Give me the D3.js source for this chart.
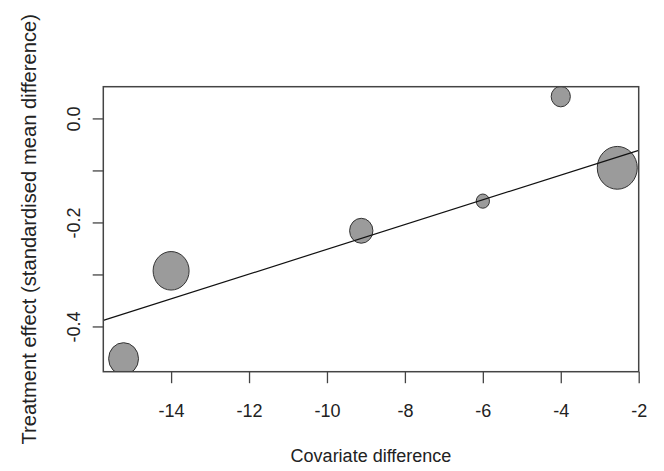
<!DOCTYPE html>
<html>
<head>
<meta charset="utf-8">
<script src="https://cdn.jsdelivr.net/npm/d3@7"></script>
<style>
  body { margin: 0; background: #fff; }
  text { font-family: "Liberation Sans", Arial, sans-serif; fill: #222; }
</style>
</head>
<body>
<svg id="chart" width="664" height="471"></svg>
<script>
// study-level data
const covDiff = [-15.22, -14.0, -9.12, -6.0, -4.0, -2.55];
const effect = [-0.462, -0.293, -0.216, -0.159, 0.042, -0.095];
const weight = [56, 81, 34, 11, 23, 100];

// meta-regression fit: intercept, slope
const coef = [-0.0137, 0.0238];

const xTicks = [-14, -12, -10, -8, -6, -4, -2];
const xTickLabels = ["-14", "-12", "-10", "-8", "-6", "-4", "-2"];
const yTicks = [-0.4, -0.3, -0.2, -0.1, 0.0];
const yTickLabels = ["-0.4", "", "-0.2", "", "0.0"];

const xLim = [-15.74, -2];
const yLim = [-0.487, 0.061];

const box = { left: 103.3, right: 638.7, top: 86.7, bottom: 371.7 };
const stretch = 1.07; // picture is a little taller than wide

const svg = d3.select("#chart");
svg.append("rect").attr("width", 664).attr("height", 471).attr("fill", "#fff");

const x = d3.scaleLinear().domain(xLim).range([box.left, box.right]);
const y = d3.scaleLinear().domain(yLim).range([box.bottom, box.top]);
const r = d3.scaleSqrt().domain([0, d3.max(weight)]).range([0, 20]);

svg.append("clipPath")
    .attr("id", "plotclip")
    .append("rect")
    .attr("x", box.left)
    .attr("y", box.top)
    .attr("width", box.right - box.left)
    .attr("height", box.bottom - box.top);

const plot = svg.append("g").attr("clip-path", "url(#plotclip)");

const pts = covDiff.map((d, i) => ({ x: d, y: effect[i], w: weight[i] }));

plot.selectAll("ellipse")
    .data(pts)
    .enter()
    .append("ellipse")
    .attr("cx", (d) => x(d.x))
    .attr("cy", (d) => y(d.y))
    .attr("rx", (d) => r(d.w))
    .attr("ry", (d) => r(d.w) * stretch)
    .attr("fill", "#9b9b9b")
    .attr("stroke", "#333")
    .attr("stroke-width", 1);

plot.append("line")
    .attr("x1", x(xLim[0]))
    .attr("y1", y(coef[0] + coef[1] * xLim[0]))
    .attr("x2", x(xLim[1]))
    .attr("y2", y(coef[0] + coef[1] * xLim[1]))
    .attr("stroke", "#111")
    .attr("stroke-width", 1.2);

// box
svg.append("rect")
    .attr("x", box.left)
    .attr("y", box.top)
    .attr("width", box.right - box.left)
    .attr("height", box.bottom - box.top)
    .attr("fill", "none")
    .attr("stroke", "#444")
    .attr("stroke-width", 1.5);

const xAxis = svg.append("g")
    .attr("transform", `translate(0,${box.bottom})`)
    .call(d3.axisBottom(x).tickValues(xTicks).tickSize(11.5).tickFormat((d, i) => xTickLabels[i]));
xAxis.select(".domain").remove();
xAxis.selectAll("line").attr("stroke", "#444").attr("stroke-width", 1.3);
xAxis.selectAll("text")
    .attr("y", 45)
    .attr("dy", null)
    .attr("fill", "#222")
    .style("font-size", "18px")
    .style("font-family", "'Liberation Sans', Arial, sans-serif");

const yAxis = svg.append("g")
    .attr("transform", `translate(${box.left},0)`)
    .call(d3.axisLeft(y).tickValues(yTicks).tickSize(10.6).tickFormat((d, i) => yTickLabels[i]));
yAxis.select(".domain").remove();
yAxis.selectAll("line").attr("stroke", "#444").attr("stroke-width", 1.3);
yAxis.selectAll("text")
    .attr("x", null)
    .attr("dy", null)
    .attr("text-anchor", "middle")
    .attr("transform", "translate(-23,0) rotate(-90)")
    .attr("fill", "#222")
    .style("font-size", "18px")
    .style("font-family", "'Liberation Sans', Arial, sans-serif");

svg.append("text")
    .attr("x", (box.left + box.right) / 2)
    .attr("y", 462)
    .attr("text-anchor", "middle")
    .style("font-size", "18px")
    .text("Covariate difference");

svg.append("text")
    .attr("transform", `translate(36,${(box.top + box.bottom) / 2}) rotate(-90)`)
    .attr("text-anchor", "middle")
    .style("font-size", "20.2px")
    .text("Treatment effect (standardised mean difference)");
</script>
</body>
</html>
